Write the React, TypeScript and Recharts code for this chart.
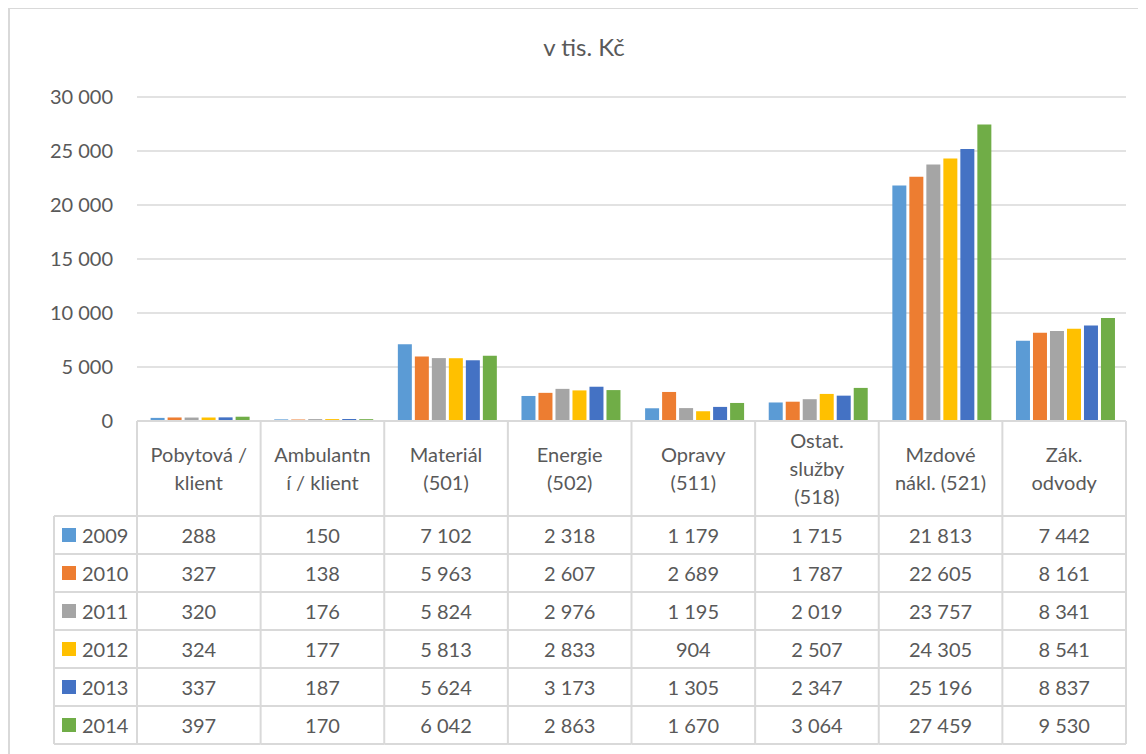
import React from 'react';
import { BarChart, Bar, XAxis, YAxis, CartesianGrid } from 'recharts';

const CATEGORIES = [
  'Pobytová / klient',
  'Ambulantní / klient',
  'Materiál (501)',
  'Energie (502)',
  'Opravy (511)',
  'Ostat. služby (518)',
  'Mzdové nákl. (521)',
  'Zák. odvody',
];

// how Excel wrapped the header cells
const HEADER_LINES = [
  ['Pobytová /', 'klient'],
  ['Ambulantn', 'í / klient'],
  ['Materiál', '(501)'],
  ['Energie', '(502)'],
  ['Opravy', '(511)'],
  ['Ostat.', 'služby', '(518)'],
  ['Mzdové', 'nákl. (521)'],
  ['Zák.', 'odvody'],
];

const YEARS = ['2009', '2010', '2011', '2012', '2013', '2014'];
const COLORS = ['#5B9BD5', '#ED7D31', '#A5A5A5', '#FFC000', '#4472C4', '#70AD47'];

const V2009 = [288, 150, 7102, 2318, 1179, 1715, 21813, 7442];
const V2010 = [327, 138, 5963, 2607, 2689, 1787, 22605, 8161];
const V2011 = [320, 176, 5824, 2976, 1195, 2019, 23757, 8341];
const V2012 = [324, 177, 5813, 2833, 904, 2507, 24305, 8541];
const V2013 = [337, 187, 5624, 3173, 1305, 2347, 25196, 8837];
const V2014 = [397, 170, 6042, 2863, 1670, 3064, 27459, 9530];

const SERIES = [V2009, V2010, V2011, V2012, V2013, V2014];
const Y_TICKS = [0, 5000, 10000, 15000, 20000, 25000, 30000];

const data = CATEGORIES.map((name, i) => {
  const row: Record<string, string | number> = { name };
  YEARS.forEach((yr, s) => {
    row[yr] = SERIES[s][i];
  });
  return row;
});

const fmt = (n: number) => String(n).replace(/\B(?=(\d{3})+(?!\d))/g, ' ');

const FONT = 'Lato, "Open Sans", sans-serif';
const TEXT = '#595959';
const LINE = '#d9d9d9';

const W = 1138;
const H = 746;
const M = { top: 89, right: 20, left: 49, bottom: 0 };
const Y_AXIS_W = 80;
const X_AXIS_H = H - 413;
const BAND = (W - M.left - Y_AXIS_W - M.right) / CATEGORIES.length;
const HEAD_H = 95;
const ROW_H = 38;
const LEG_LEFT = 46;

function TableTick(props: any) {
  const { x, y, index } = props;
  const i = index;
  const left = x - BAND / 2;
  const right = x + BAND / 2;
  const bottom = y + HEAD_H + ROW_H * YEARS.length;
  const lines = HEADER_LINES[i];
  const mid = y + 47;
  const step = 28;

  return (
    <g>
      <line x1={left} y1={y} x2={left} y2={bottom} stroke={LINE} strokeWidth={2} />
      {i === CATEGORIES.length - 1 && (
        <line x1={right} y1={y} x2={right} y2={bottom} stroke={LINE} strokeWidth={2} />
      )}
      {YEARS.map((_, r) => (
        <line
          key={'h' + r}
          x1={i === 0 ? LEG_LEFT : left}
          x2={right}
          y1={y + HEAD_H + ROW_H * r}
          y2={y + HEAD_H + ROW_H * r}
          stroke={LINE}
          strokeWidth={2}
        />
      ))}
      <line
        x1={i === 0 ? LEG_LEFT : left}
        x2={right}
        y1={bottom}
        y2={bottom}
        stroke={LINE}
        strokeWidth={2}
      />
      {i === 0 && (
        <line x1={LEG_LEFT} y1={y + HEAD_H} x2={LEG_LEFT} y2={bottom} stroke={LINE} strokeWidth={2} />
      )}
      {lines.map((t: string, k: number) => (
        <text
          key={'t' + k}
          x={x}
          y={mid + (k - (lines.length - 1) / 2) * step}
          textAnchor="middle"
          dominantBaseline="central"
          fill={TEXT}
          fontSize={20}
          fontFamily={FONT}
        >
          {t}
        </text>
      ))}
      {SERIES.map((vals, r) => (
        <text
          key={'v' + r}
          x={x}
          y={y + HEAD_H + ROW_H * r + ROW_H / 2}
          textAnchor="middle"
          dominantBaseline="central"
          fill={TEXT}
          fontSize={20}
          fontFamily={FONT}
        >
          {fmt(vals[i])}
        </text>
      ))}
      {i === 0 &&
        YEARS.map((yr, r) => {
          const cy = y + HEAD_H + ROW_H * r + ROW_H / 2;
          return (
            <g key={'l' + r}>
              <rect x={LEG_LEFT + 8} y={cy - 7} width={14} height={14} fill={COLORS[r]} />
              <text
                x={LEG_LEFT + 28}
                y={cy}
                dominantBaseline="central"
                fill={TEXT}
                fontSize={20}
                fontFamily={FONT}
              >
                {yr}
              </text>
            </g>
          );
        })}
    </g>
  );
}

export default function App() {
  return (
    <div style={{ position: 'relative', width: W, height: H, fontFamily: FONT, background: '#fff' }}>
      <div
        style={{
          position: 'absolute',
          left: 0,
          top: -1,
          width: W,
          height: H + 1,
          borderLeft: `2px solid ${LINE}`,
          borderTop: `2px solid ${LINE}`,
          boxSizing: 'border-box',
          pointerEvents: 'none',
        }}
      />
      <div
        style={{
          position: 'absolute',
          left: 476,
          top: 23,
          width: 200,
          textAlign: 'center',
          fontSize: 24,
          color: TEXT,
          lineHeight: '32px',
        }}
      >
        v tis. Kč
      </div>
      <BarChart
        width={W}
        height={H}
        data={data}
        margin={M}
        barCategoryGap="11%"
        barGap={3}
      >
        <CartesianGrid vertical={false} stroke={LINE} strokeWidth={1.5} />
        <XAxis
          dataKey="name"
          height={X_AXIS_H}
          interval={0}
          tickLine={false}
          tickSize={0}
          tickMargin={0}
          axisLine={{ stroke: LINE, strokeWidth: 2 }}
          tick={(p: any) => <TableTick {...p} />}
        />
        <YAxis
          width={Y_AXIS_W}
          domain={[0, 30000]}
          ticks={Y_TICKS}
          interval={0}
          tickLine={false}
          axisLine={false}
          tickSize={0}
          tickMargin={24}
          tickFormatter={(v: number) => fmt(v)}
          tick={{ fill: TEXT, fontSize: 20, fontFamily: FONT }}
        />
        {YEARS.map((yr, s) => (
          <Bar key={yr} dataKey={yr} fill={COLORS[s]} isAnimationActive={false} />
        ))}
      </BarChart>
    </div>
  );
}
